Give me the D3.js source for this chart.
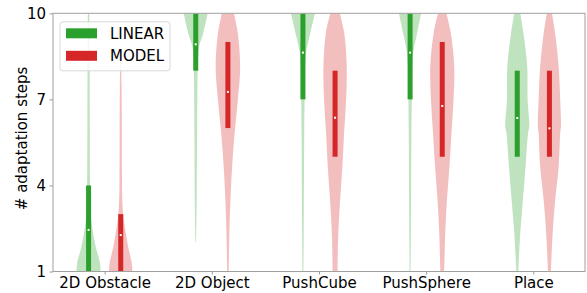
<!DOCTYPE html>
<html>
<head>
<meta charset="utf-8">
<script src="https://cdn.jsdelivr.net/npm/d3@7"></script>
<style>
  body { margin: 0; background: #fff; }
  text { font-family: "DejaVu Sans", sans-serif; fill: #000; }
</style>
</head>
<body>
<div class="viz"></div>
<script>
// categories and tick labels
var categories = ["2D Obstacle", "2D Object", "PushCube", "PushSphere", "Place"]
var yTicks = [1, 4, 7, 10]
var seriesNames = ["LINEAR", "MODEL"]

// box (quartiles) and centre dot
var linearQ1 = [1, 8, 7, 7, 5]
var linearQ3 = [4, 10, 10, 10, 8]
var linearMid = [2.45, 8.92, 8.63, 8.63, 6.35]
var modelQ1 = [1, 6, 5, 5, 5]
var modelQ3 = [3, 9, 8, 9, 8]
var modelMid = [2.27, 7.26, 6.36, 6.77, 5.99]

// violin outlines: [steps, relative density]
var linearDensity = [
  [[1,1.0],[1.3,0.95],[1.82,0.62],[2.34,0.38],[2.9,0.2],[3.5,0.15],[4.1,0.12],[6,0.1],[8,0.09],[10,0.06]],
  [[2.04,0.03],[3.49,0.08],[5.83,0.11],[7,0.13],[8.14,0.17],[8.84,0.28],[9.3,0.62],[10,1.0]],
  [[1,0.04],[2,0.06],[3.49,0.08],[5.83,0.11],[6.98,0.14],[8.14,0.18],[8.6,0.25],[9.3,0.61],[10,1.0]],
  [[1,0.04],[2,0.06],[3.49,0.08],[5.83,0.11],[6.98,0.14],[8.14,0.18],[8.6,0.25],[9.3,0.58],[10,0.93]],
  [[1,0.08],[1.17,0.1],[2.34,0.25],[3.49,0.47],[4.65,0.69],[5.83,0.9],[6.05,1.0],[6.98,0.86],[8.14,0.83],[9.3,0.52],[10,0.25]]
]
var modelDensity = [
  [[1,0.97],[1.3,0.92],[1.85,0.62],[2.34,0.42],[2.9,0.22],[3.5,0.13],[4.5,0.1],[6,0.09],[7.5,0.07],[8.3,0.03]],
  [[1,0.06],[1.17,0.07],[2.34,0.12],[3.49,0.21],[4.65,0.35],[5.83,0.56],[6.98,0.83],[8.14,1.02],[9.3,0.83],[10,0.5]],
  [[1,0.21],[1.17,0.21],[2.34,0.27],[3.49,0.42],[4.65,0.61],[5.83,0.75],[6.98,0.92],[8.14,0.97],[9.3,0.77],[10,0.39]],
  [[1,0.15],[1.17,0.17],[2.34,0.25],[3.49,0.39],[4.65,0.6],[5.83,0.77],[6.98,0.94],[8.14,1.0],[9.3,0.72],[10,0.35]],
  [[1,0.12],[1.17,0.14],[2.34,0.27],[3.49,0.48],[4.65,0.77],[5.83,0.9],[6.05,0.96],[6.98,0.9],[8.14,0.77],[9.3,0.48],[10,0.21]]
]

var colors = ["#2ca02c", "#d62728"]

// set the dimensions and margins of the graph
var W = 587, H = 293
var margin = {top: 13.3, right: 2, bottom: 21.5, left: 53}
var width = W - margin.left - margin.right,
    height = H - margin.top - margin.bottom

var svg = d3.select(".viz")
  .append("svg")
    .attr("width", W)
    .attr("height", H)
  .append("g")
    .attr("transform", "translate(" + margin.left + "," + margin.top + ")")

var x = d3.scaleLinear().domain([-0.482, 4.482]).range([0, width])
var y = d3.scaleLinear().domain([1, 10]).range([height, 0])
var w = d3.scaleLinear().domain([0, 1]).range([0, x(0.112) - x(0)])
var offset = 0.15

svg.append("clipPath").attr("id", "plot-clip")
  .append("rect").attr("width", width).attr("height", height)

var plot = svg.append("g").attr("clip-path", "url(#plot-clip)")

var series = [
  {density: linearDensity, q1: linearQ1, q3: linearQ3, mid: linearMid, dx: -offset},
  {density: modelDensity, q1: modelQ1, q3: modelQ3, mid: modelMid, dx: offset}
]

series.forEach(function(s, si) {
  categories.forEach(function(c, i) {
    var cx = x(i + s.dx)
    var area = d3.area()
      .curve(d3.curveCatmullRom)
      .y(function(d) { return y(d[0]) })
      .x0(function(d) { return cx - w(d[1]) })
      .x1(function(d) { return cx + w(d[1]) })

    plot.append("path")
      .datum(s.density[i])
      .attr("d", area)
      .attr("fill", colors[si])
      .attr("fill-opacity", 0.3)

    plot.append("rect")
      .attr("x", cx - 2.5)
      .attr("width", 5)
      .attr("y", y(s.q3[i]))
      .attr("height", y(s.q1[i]) - y(s.q3[i]))
      .attr("fill", colors[si])

    plot.append("rect")
      .attr("x", cx - 1)
      .attr("y", y(s.mid[i]) - 1)
      .attr("width", 2)
      .attr("height", 2)
      .attr("fill", "#fff")
  })
})

// axes
var xAxis = svg.append("g")
  .attr("transform", "translate(0," + height + ")")
  .call(d3.axisBottom(x).tickValues(d3.range(categories.length))
    .tickFormat(function(d) { return categories[d] }).tickSize(3).tickPadding(3))

var yAxis = svg.append("g")
  .call(d3.axisLeft(y).tickValues(yTicks).tickSize(3.5).tickPadding(3.5))

svg.selectAll(".domain").remove()
svg.selectAll(".tick line").attr("stroke", "#999")
svg.selectAll(".tick text").style("font-size", "15px").attr("fill", "#000")

// frame
svg.append("rect")
  .attr("width", width)
  .attr("height", height)
  .attr("fill", "none")
  .attr("stroke", "#a0a0a0")
  .attr("stroke-width", 1)

svg.append("text")
  .attr("transform", "translate(" + (22 - margin.left) + "," + (height / 2 - 4) + ") rotate(-90)")
  .attr("text-anchor", "middle")
  .attr("dominant-baseline", "middle")
  .style("font-size", "15px")
  .text("# adaptation steps")

// legend
var legend = svg.append("g").attr("transform", "translate(7,8.5)")
legend.append("rect")
  .attr("width", 110)
  .attr("height", 49)
  .attr("rx", 3)
  .attr("fill", "#fff")
  .attr("fill-opacity", 0.8)
  .attr("stroke", "#d8d8d8")

seriesNames.forEach(function(name, i) {
  legend.append("rect")
    .attr("x", 6)
    .attr("y", 6.5 + i * 22.5)
    .attr("width", 31)
    .attr("height", 10)
    .attr("fill", colors[i])
  legend.append("text")
    .attr("x", 50)
    .attr("y", 17 + i * 22.5)
    .style("font-size", "15px")
    .text(name)
})
</script>
</body>
</html>
